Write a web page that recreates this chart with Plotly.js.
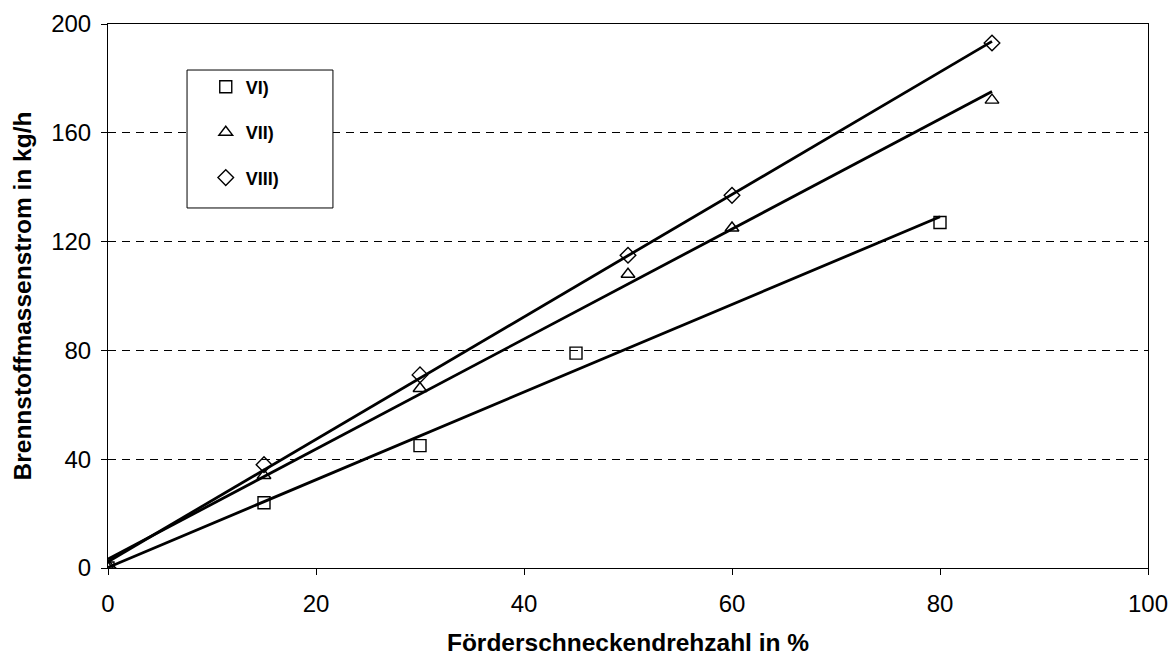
<!DOCTYPE html>
<html>
<head>
<meta charset="utf-8">
<script src="https://cdn.plot.ly/plotly-3.0.1.min.js"></script>
<style>html,body{margin:0;padding:0;background:#fff;}#chart{width:1176px;height:660px;}</style>
</head>
<body>
<div id="chart"></div>
<script>
// Data
var xVI = [0, 15, 30, 45, 80];
var yVI = [0, 24, 45, 79, 127];
var xVII = [0, 15, 30, 50, 60, 85];
var yVII = [0, 34, 66, 108, 125, 172];
var xVIII = [0, 15, 30, 50, 60, 85];
var yVIII = [0, 38, 71, 115, 137, 193];
var seriesNames = ['VI)', 'VII)', 'VIII)'];
var xTicks = [0, 20, 40, 60, 80, 100];
var yTicks = [0, 40, 80, 120, 160, 200];

// Linear trend line (least squares), as in the original spreadsheet chart
function trend(xs, ys) {
  var n = xs.length, mx = 0, my = 0;
  for (var i = 0; i < n; i++) { mx += xs[i]; my += ys[i]; }
  mx /= n; my /= n;
  var sxx = 0, sxy = 0;
  for (var j = 0; j < n; j++) { sxx += (xs[j]-mx)*(xs[j]-mx); sxy += (xs[j]-mx)*(ys[j]-my); }
  var b = sxy / sxx, a = my - b * mx;
  var x0 = Math.min.apply(null, xs), x1 = Math.max.apply(null, xs);
  return {x: [x0, x1], y: [a + b*x0, a + b*x1]};
}

var sets = [[xVI, yVI, 'square-open', 12], [xVII, yVII, 'triangle-up-open', 12], [xVIII, yVIII, 'diamond-open', 12]];
var traces = [];
sets.forEach(function(s, k) {
  var t = trend(s[0], s[1]);
  traces.push({x: t.x, y: t.y, mode: 'lines', line: {color: '#000', width: 2.8}, showlegend: false, hoverinfo: 'skip'});
});
sets.forEach(function(s, k) {
  traces.push({x: s[0], y: s[1], mode: 'markers', name: seriesNames[k], legendgroup: 'g' + k,
    marker: {symbol: s[2], size: s[3], color: '#000', line: {color: '#000', width: 1.4}}});
});

var layout = {
  width: 1176, height: 660,
  margin: {l: 108, r: 28, t: 24, b: 92},
  paper_bgcolor: '#fff', plot_bgcolor: '#fff',
  font: {family: 'Liberation Sans, Arial, sans-serif', size: 24, color: '#000'},
  showlegend: true,
  legend: {
    x: 0.094, y: 0.918, xanchor: 'left', yanchor: 'top',
    bgcolor: 'rgba(0,0,0,0)', borderwidth: 0,
    font: {size: 18, color: '#000', family: 'Liberation Sans, Arial, sans-serif', weight: 'bold'},
    tracegroupgap: 19, itemwidth: 30
  },
  shapes: [{
    type: 'rect', xref: 'paper', yref: 'paper', layer: 'above',
    x0: 0.076, x1: 0.2163, y0: 0.6618, y1: 0.9154,
    fillcolor: '#fff', line: {color: '#000', width: 1}
  }],
  xaxis: {
    range: [0, 100], tickvals: xTicks, ticktext: xTicks.map(String),
    showgrid: false, zeroline: false,
    showline: true, linecolor: '#000', linewidth: 1, mirror: true,
    ticks: 'outside', ticklen: 6, tickcolor: '#000', tickwidth: 1,
    ticklabelstandoff: 8,
    tickfont: {size: 24},
    title: {text: 'Förderschneckendrehzahl in %', font: {size: 24.5, weight: 'bold'}, standoff: 18}
  },
  yaxis: {
    range: [0, 200], tickvals: yTicks, ticktext: yTicks.map(String),
    showgrid: true, gridcolor: '#000', gridwidth: 1, griddash: '8px,6px',
    zeroline: false,
    showline: true, linecolor: '#000', linewidth: 1, mirror: true,
    ticks: 'outside', ticklen: 6, tickcolor: '#000', tickwidth: 1,
    ticklabelstandoff: 5,
    tickfont: {size: 24},
    title: {text: 'Brennstoffmassenstrom in kg/h', font: {size: 24.5, weight: 'bold'}, standoff: 12}
  }
};

Plotly.newPlot('chart', traces, layout, {displayModeBar: false, staticPlot: true});
</script>
</body>
</html>
